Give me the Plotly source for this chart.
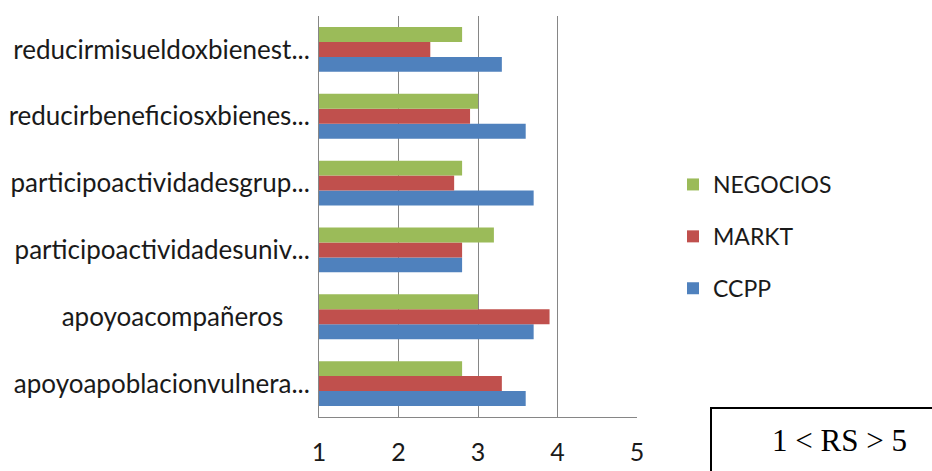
import plotly.graph_objects as go

categories = [
    "apoyoapoblacionvulnera...",
    "apoyoacompañeros",
    "participoactividadesuniv...",
    "participoactividadesgrup...",
    "reducirbeneficiosxbienes...",
    "reducirmisueldoxbienest...",
]
ccpp = [3.6, 3.7, 2.8, 3.7, 3.6, 3.3]
markt = [3.3, 3.9, 2.8, 2.7, 2.9, 2.4]
negocios = [2.8, 3.0, 3.2, 2.8, 3.0, 2.8]
x_ticks = [1, 2, 3, 4, 5]

series = [("CCPP", ccpp, "#4F81BD", 3), ("MARKT", markt, "#C0504D", 2), ("NEGOCIOS", negocios, "#9BBB59", 1)]

FONT = "Lato"
fig = go.Figure()
for name, vals, col, rank in series:
    fig.add_trace(go.Bar(y=categories, x=vals, name=name, orientation="h", legendrank=rank,
                         marker=dict(color=col, line=dict(width=0)), legendgroup=name))

W, H = 932, 471
L, R, T, B = 319, 637, 16, 417
tick_text = [c + ("\u00a0" * 4 if c == "apoyoacompañeros" else "") for c in categories]
fig.update_layout(
    width=W, height=H,
    margin=dict(l=L, r=W - R, t=T, b=H - B, pad=0, autoexpand=False),
    paper_bgcolor="white", plot_bgcolor="white",
    barmode="group", bargap=0.33, bargroupgap=0,
    font=dict(family=FONT, size=22, color="#1a1a1a"),
    showlegend=True,
    legend=dict(x=(673 - L) / (R - L), xanchor="left", y=(B - 163) / (B - T), yanchor="top",
                traceorder="grouped", tracegroupgap=19,
                font=dict(family=FONT, size=23, color="#1a1a1a"),
                itemwidth=30, bgcolor="rgba(0,0,0,0)"),
    xaxis=dict(range=[1, 5], tickvals=x_ticks, showgrid=True, gridcolor="#868686", gridwidth=1,
               showline=True, linecolor="#868686", linewidth=1, zeroline=False, automargin=False,
               ticks="", ticklabelstandoff=13, tickfont=dict(size=25)),
    yaxis=dict(categoryorder="array", categoryarray=categories, tickvals=categories, ticktext=tick_text,
               showgrid=False, automargin=False,
               showline=True, linecolor="#868686", linewidth=1, ticks="",
               ticklabelstandoff=3, tickfont=dict(size=26)),
)

# "1 < RS > 5" text box
bx0 = (711 - L) / (R - L)
bx1 = (940 - L) / (R - L)
by0 = (B - 480) / (B - T)
by1 = (B - 408) / (B - T)
fig.add_shape(type="rect", xref="paper", yref="paper", x0=bx0, x1=bx1, y0=by0, y1=by1,
              line=dict(color="black", width=2), fillcolor="rgba(0,0,0,0)", layer="above")
fig.add_annotation(xref="paper", yref="paper", x=(839 - L) / (R - L), y=(B - 440) / (B - T),
                   text="1 &lt; RS &gt; 5", showarrow=False, xanchor="center", yanchor="middle",
                   font=dict(family="Liberation Serif", size=31, color="black"))

fig.write_html("out.html")
